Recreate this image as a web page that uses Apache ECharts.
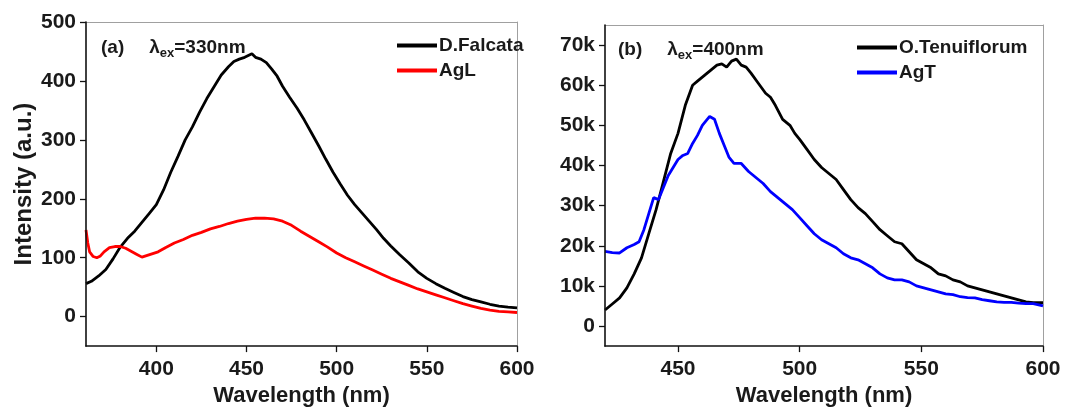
<!DOCTYPE html>
<html><head><meta charset="utf-8">
<script src="https://cdn.jsdelivr.net/npm/echarts@6/dist/echarts.min.js"></script>
<style>html,body{margin:0;padding:0;background:#fff}#c{width:1072px;height:412px}</style>
</head><body><div id="c"></div>
<script>
// Panel (a)
const aWave = [361,362,363,365,367,369,371,374,377,380,383,386,389,392,395,398,401,405,410,415,420,425,430,435,440,445,450,455,460,465,470,475,480,485,490,495,500,505,510,515,520,525,530,535,540,545,550,555,560,565,570,575,580,585,590,595,600];
const agL = [147,125,110,102,100,103,110,117,119,119,116,111,106,101,104,107,110,117,125,131,138,143,149,153,158,162,165,167,167,166,162,155,145,136,127,118,108,100,93,86,79,72,65,59,53,47,42,37,32,27,22,18,14,11,9,8,7];
const dWave = [361,364,368,372,376,380,384,388,392,396,400,404,408,412,416,420,424,428,432,436,440,443,446,449,451,453,455,458,461,464,467,470,474,478,482,486,490,494,498,502,506,510,514,518,522,526,530,535,540,545,550,555,560,565,570,575,580,585,590,595,600];
const dFalcata = [56,60,69,80,98,118,133,145,160,175,190,215,245,272,300,322,347,370,390,410,424,433,437,440,443,446,440,437,431,420,408,391,372,354,334,312,290,267,245,225,206,190,176,162,148,133,120,105,91,76,65,56,48,41,34,29,25,21,18,16,15];
// Panel (b)
const tWave = [420,423,426,429,432,435,438,441,444,447,450,453,456,458,461,464,466,468,470,472,474,476,478,480,483,486,488,490,493,496,498,500,503,506,509,512,515,518,521,524,527,530,533,536,539,542,545,548,551,554,557,560,563,566,569,572,575,578,581,584,587,590,593,596,600];
const oTenuiflorum = [4.0,5.5,7.0,9.5,13,17,23,29,36,43,48,55,60,61,62.5,64,65,65.3,64.5,66,66.5,65,64.5,63,60.5,58,57,55,51.5,50,48,46.5,44,41.5,39.5,38,36.5,34,31.5,29.5,28,26,24,22.5,21,20.5,18.5,16.5,15.5,14.5,13,12.5,11.5,11,10,9.5,9,8.5,8,7.5,7,6.5,6,5.8,5.8];
const gWave = [420,423,426,429,432,434,436,438,440,442,444,446,448,450,452,454,456,458,460,462,463,465,467,469,471,473,476,479,482,485,488,491,494,497,500,503,506,509,512,515,518,521,524,527,530,533,536,539,542,545,548,551,554,557,560,563,566,569,572,575,578,581,584,587,590,593,596,600];
const agT = [18.6,18.3,18.2,19.5,20.3,21,24,28,32,31.5,34.5,37.5,39.5,41.5,42.5,43,45.5,47.5,50,51.5,52.2,51.5,48,45,42,40.5,40.5,38.5,37,35.5,33.5,32,30.5,29,27,25,23,21.5,20.5,19.5,18,17,16.5,15.5,14.5,13,12,11.5,11.5,11,10,9.5,9,8.5,8,7.8,7.3,7.1,7.0,6.6,6.3,6.0,5.9,5.9,5.7,5.6,5.6,5.0];
const aXTicks = [400,450,500,550,600];
const aYTicks = [0,100,200,300,400,500];
const bXTicks = [450,500,550,600];
const bYTicks = [0,10,20,30,40,50,60,70];

const zip = (xs, ys, k) => xs.map((x, i) => [x, ys[i] * k]);
const FONT = '"Liberation Sans", Arial, sans-serif';
const TXT = '#1a1a1a';
const lbl = {fontFamily: FONT, fontWeight: 'bold', fontSize: 21, color: TXT};

function xAxis(gi, min, max, ticks, gap) {
  return {gridIndex: gi, type: 'value', min: min, max: max, position: 'bottom',
    name: 'Wavelength (nm)', nameLocation: 'middle', nameGap: gap,
    nameTextStyle: {fontFamily: FONT, fontWeight: 'bold', fontSize: 22, color: TXT},
    axisLine: {show: true, onZero: false, lineStyle: {color: '#111', width: 1.6}},
    axisTick: {show: true, length: 6, customValues: ticks, lineStyle: {color: '#111', width: 1.3}},
    axisLabel: Object.assign({customValues: ticks, margin: 13}, lbl),
    splitLine: {show: false}, z: 5};
}
function yAxis(gi, min, max, ticks, fmt, name) {
  return {gridIndex: gi, type: 'value', min: min, max: max, position: 'left',
    name: name, nameLocation: 'middle', nameGap: 50, nameRotate: 90,
    nameTextStyle: {fontFamily: FONT, fontWeight: 'bold', fontSize: 24, color: TXT},
    axisLine: {show: true, onZero: false, lineStyle: {color: '#111', width: 1.6}},
    axisTick: {show: true, length: 6, customValues: ticks, lineStyle: {color: '#111', width: 1.3}},
    axisLabel: Object.assign({customValues: ticks, margin: 10, formatter: fmt}, lbl),
    splitLine: {show: false}, z: 5};
}
function frameX(gi, min, max) {
  return {gridIndex: gi, type: 'value', min: min, max: max, position: 'top',
    axisLine: {show: true, onZero: false, lineStyle: {color: '#a0a0a0', width: 1}},
    axisTick: {show: false}, axisLabel: {show: false}, splitLine: {show: false}};
}
function frameY(gi, min, max) {
  return {gridIndex: gi, type: 'value', min: min, max: max, position: 'right',
    axisLine: {show: true, onZero: false, lineStyle: {color: '#a0a0a0', width: 1}},
    axisTick: {show: false}, axisLabel: {show: false}, splitLine: {show: false}};
}

const chart = echarts.init(document.getElementById('c'), null, {renderer: 'canvas'});
const rich = {
  a: {fontFamily: FONT, fontWeight: 'bold', fontSize: 19, color: TXT, lineHeight: 24},
  s: {fontFamily: FONT, fontWeight: 'bold', fontSize: 13, color: TXT, verticalAlign: 'bottom', lineHeight: 13}
};
chart.setOption({
  backgroundColor: '#fff',
  animation: false,
  grid: [
    {left: 86, right: 555, top: 22, bottom: 63},
    {left: 605, right: 29, top: 25, bottom: 60}
  ],
  title: [
    {text: '{a|(a)}     {a|λ}{s|ex}{a|=330nm}', left: 96, top: 31, textStyle: {rich: rich}},
    {text: '{a|(b)}     {a|λ}{s|ex}{a|=400nm}', left: 613, top: 33, textStyle: {rich: rich}}
  ],
  legend: [
    {data: ['D.Falcata', 'AgL'], orient: 'vertical', left: 392, top: 31, itemWidth: 40, itemHeight: 4, itemGap: 6, icon: 'rect',
      textStyle: {fontFamily: FONT, fontWeight: 'bold', fontSize: 19, color: TXT, padding: [0,0,0,-3]}},
    {data: ['O.Tenuiflorum', 'AgT'], orient: 'vertical', left: 852, top: 33, itemWidth: 40, itemHeight: 4, itemGap: 6, icon: 'rect',
      textStyle: {fontFamily: FONT, fontWeight: 'bold', fontSize: 19, color: TXT, padding: [0,0,0,-3]}}
  ],
  xAxis: [xAxis(0, 361, 600, aXTicks, 33), xAxis(1, 420, 600, bXTicks, 36), frameX(0, 361, 600), frameX(1, 420, 600)],
  yAxis: [
    yAxis(0, -50, 500, aYTicks, v => String(v), 'Intensity (a.u.)'),
    yAxis(1, -5000, 75000, bYTicks.map(v => v * 1000), v => v === 0 ? '0' : (v / 1000) + 'k', ''),
    frameY(0, -50, 500), frameY(1, -5000, 75000)
  ],
  series: [
    {name: 'D.Falcata', type: 'line', xAxisIndex: 0, yAxisIndex: 0, data: zip(dWave, dFalcata, 1), showSymbol: false, color: '#000', lineStyle: {width: 2.8, color: '#000'}},
    {name: 'AgL', type: 'line', xAxisIndex: 0, yAxisIndex: 0, data: zip(aWave, agL, 1), showSymbol: false, color: '#ff0000', lineStyle: {width: 2.8, color: '#ff0000'}},
    {name: 'O.Tenuiflorum', type: 'line', xAxisIndex: 1, yAxisIndex: 1, data: zip(tWave, oTenuiflorum, 1000), showSymbol: false, color: '#000', lineStyle: {width: 2.8, color: '#000'}},
    {name: 'AgT', type: 'line', xAxisIndex: 1, yAxisIndex: 1, data: zip(gWave, agT, 1000), showSymbol: false, color: '#0000ff', lineStyle: {width: 2.8, color: '#0000ff'}}
  ]
});
</script></body></html>
